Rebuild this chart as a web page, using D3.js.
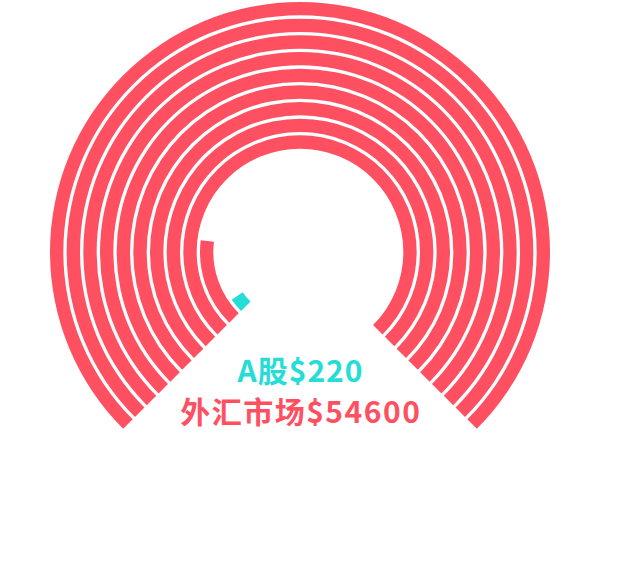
<!DOCTYPE html>
<html>
<head>
<meta charset="utf-8">
<script src="https://cdn.jsdelivr.net/npm/d3@7"></script>
<style>
html,body{margin:0;padding:0;background:#fff;}
svg{display:block;}
</style>
</head>
<body>
<svg id="chart" width="635" height="562"></svg>
<script>
// ---- data ----
const categories = ["A股", "外汇市场"];
const values = [220, 54600];
const colors = ["#25DDD6", "#FF5062"];
const ringCapacity = 5940; // value represented by one full 270° ring

// ---- layout ----
const W = 635, H = 562;
const cx = 300, cy = 252;
const outerR = 250, innerR = 70;
const startA = -3 * Math.PI / 4, endA = 3 * Math.PI / 4;

const svg = d3.select("#chart");
const g = svg.append("g").attr("transform", `translate(${cx},${cy})`);

// build ring segments: red (外汇市场) fills outer rings first, cyan (A股) goes in the next ring
const segs = [];
let ringIdx = 0;
[1, 0].forEach(si => {
  let v = values[si];
  while (v > 0) {
    const part = Math.min(v, ringCapacity);
    segs.push({ring: ringIdx, value: part, series: si});
    v -= part;
    ringIdx++;
  }
});

const rScale = d3.scaleBand()
  .domain(d3.range(ringIdx))
  .range([outerR, innerR])
  .paddingInner(0.2)
  .paddingOuter(0);

const aScale = d3.scaleLinear().domain([0, ringCapacity]).range([startA, endA]);

const arc = d3.arc()
  .innerRadius(d => rScale(d.ring))
  .outerRadius(d => rScale(d.ring) + rScale.bandwidth())
  .startAngle(startA)
  .endAngle(d => aScale(d.value));

g.selectAll("path.ring")
  .data(segs)
  .join("path")
  .attr("class", "ring")
  .attr("d", arc)
  .attr("fill", d => colors[d.series]);

// labels
const labels = [
  {text: categories[0] + "$" + values[0], color: colors[0], y: 382, ls: 1},
  {text: categories[1] + "$" + values[1], color: colors[1], y: 423, ls: 1.5}
];
svg.selectAll("text.lbl")
  .data(labels)
  .join("text")
  .attr("class", "lbl")
  .attr("x", d => cx + d.ls / 2)
  .attr("y", d => d.y)
  .attr("text-anchor", "middle")
  .attr("font-family", "'Noto Sans CJK SC', 'Noto Sans', sans-serif")
  .attr("font-weight", "bold")
  .attr("font-size", 30)
  .attr("letter-spacing", d => d.ls)
  .attr("fill", d => d.color)
  .text(d => d.text);
</script>
</body>
</html>
